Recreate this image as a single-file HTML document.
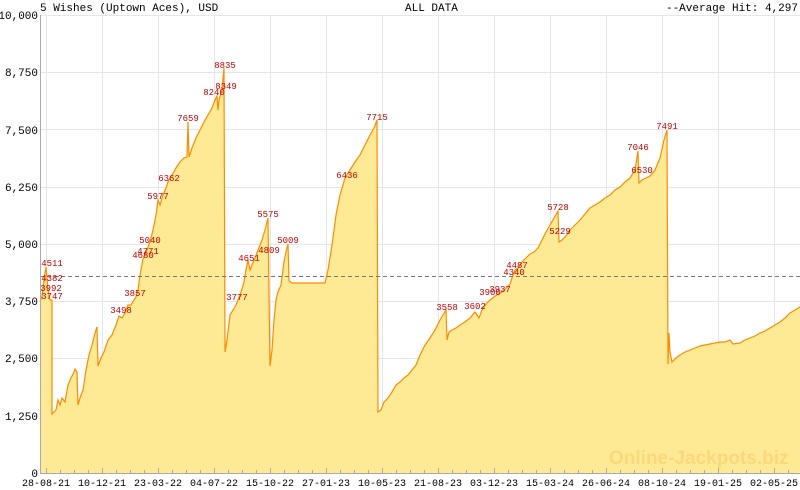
<!DOCTYPE html><html><head><style>body{margin:0;background:#fff}svg{display:block}text{font-family:"Liberation Mono","DejaVu Sans Mono",monospace}</style></head><body>
<svg width="800" height="490" xmlns="http://www.w3.org/2000/svg">
<rect width="800" height="490" fill="#fff"/>
<g stroke="#e6e6e6" stroke-width="1">
<line x1="40" y1="15.5" x2="800" y2="15.5"/><line x1="40" y1="72.5" x2="800" y2="72.5"/><line x1="40" y1="129.5" x2="800" y2="129.5"/><line x1="40" y1="187.5" x2="800" y2="187.5"/><line x1="40" y1="244.5" x2="800" y2="244.5"/><line x1="40" y1="301.5" x2="800" y2="301.5"/><line x1="40" y1="358.5" x2="800" y2="358.5"/><line x1="40" y1="416.5" x2="800" y2="416.5"/>
<line x1="46.5" y1="15" x2="46.5" y2="473"/><line x1="102.5" y1="15" x2="102.5" y2="473"/><line x1="158.5" y1="15" x2="158.5" y2="473"/><line x1="214.5" y1="15" x2="214.5" y2="473"/><line x1="270.5" y1="15" x2="270.5" y2="473"/><line x1="326.5" y1="15" x2="326.5" y2="473"/><line x1="382.5" y1="15" x2="382.5" y2="473"/><line x1="438.5" y1="15" x2="438.5" y2="473"/><line x1="494.5" y1="15" x2="494.5" y2="473"/><line x1="550.5" y1="15" x2="550.5" y2="473"/><line x1="606.5" y1="15" x2="606.5" y2="473"/><line x1="662.5" y1="15" x2="662.5" y2="473"/><line x1="718.5" y1="15" x2="718.5" y2="473"/><line x1="774.5" y1="15" x2="774.5" y2="473"/>
</g>
<polygon fill="#feea94" points="40,473 40,302 42,296 44,280 46,267 48,290 50,300 52,300 52,414 56,410 58,400 60,405 62,398 65,402 68,385 71,378 74,372 75,369 77,372 78,405 80,398 83,390 86,370 89,355 92,345 95,333 97,327 98,366 101,358 104,352 108,340 112,335 116,325 119,316 122,318 125,313 128,305 131,305 134,300 136,297 138,290 140,275 143,259 146,252 150,242 153,230 156,215 158,200 160,205 163,195 166,188 168,182 172,175 176,168 180,162 184,158 187,157 188,122 189,157 192,148 196,138 200,130 204,122 208,115 212,108 215,100 217,96 218,110 219,100 222,90 224,68 225,352 227,340 230,315 233,310 236,305 238,300 241,292 244,282 246,270 248,260 250,270 252,265 255,258 258,250 262,240 265,230 268,218 270,366 272,350 274,320 276,300 278,292 281,285 284,262 286,252 288,244 289,281 292,283 325,283 328,270 332,245 336,215 340,195 345,178 350,170 355,162 360,155 365,145 370,135 374,128 377,120 378,412 381,410 384,402 388,398 392,392 396,385 400,382 404,378 408,375 412,370 416,365 420,355 425,345 430,338 435,330 440,320 446,310 447,340 449,332 452,330 456,328 460,325 465,322 470,318 475,312 479,318 482,310 486,304 490,300 494,297 498,294 502,292 506,288 510,284 513,275 515,270 518,268 522,262 526,258 530,254 534,252 538,248 542,240 546,232 550,225 554,218 558,211 559,242 562,240 566,236 570,230 575,225 580,220 585,214 590,208 595,205 600,202 605,198 610,195 615,190 620,187 625,182 630,178 635,170 638,151 639,183 642,180 646,178 650,176 655,170 660,158 664,140 667,130 668,364 669,333 670,352 672,362 676,358 680,355 685,352 690,350 695,348 700,346 705,345 710,344 715,343 720,342 725,342 730,340 733,344 740,343 745,340 750,338 755,336 760,333 765,331 770,328 775,325 780,322 785,318 790,313 795,310 800,307 800,473"/>
<polyline fill="none" stroke="#ff8c00" stroke-width="1.2" points="40,302 42,296 44,280 46,267 48,290 50,300 52,300 52,414 56,410 58,400 60,405 62,398 65,402 68,385 71,378 74,372 75,369 77,372 78,405 80,398 83,390 86,370 89,355 92,345 95,333 97,327 98,366 101,358 104,352 108,340 112,335 116,325 119,316 122,318 125,313 128,305 131,305 134,300 136,297 138,290 140,275 143,259 146,252 150,242 153,230 156,215 158,200 160,205 163,195 166,188 168,182 172,175 176,168 180,162 184,158 187,157 188,122 189,157 192,148 196,138 200,130 204,122 208,115 212,108 215,100 217,96 218,110 219,100 222,90 224,68 225,352 227,340 230,315 233,310 236,305 238,300 241,292 244,282 246,270 248,260 250,270 252,265 255,258 258,250 262,240 265,230 268,218 270,366 272,350 274,320 276,300 278,292 281,285 284,262 286,252 288,244 289,281 292,283 325,283 328,270 332,245 336,215 340,195 345,178 350,170 355,162 360,155 365,145 370,135 374,128 377,120 378,412 381,410 384,402 388,398 392,392 396,385 400,382 404,378 408,375 412,370 416,365 420,355 425,345 430,338 435,330 440,320 446,310 447,340 449,332 452,330 456,328 460,325 465,322 470,318 475,312 479,318 482,310 486,304 490,300 494,297 498,294 502,292 506,288 510,284 513,275 515,270 518,268 522,262 526,258 530,254 534,252 538,248 542,240 546,232 550,225 554,218 558,211 559,242 562,240 566,236 570,230 575,225 580,220 585,214 590,208 595,205 600,202 605,198 610,195 615,190 620,187 625,182 630,178 635,170 638,151 639,183 642,180 646,178 650,176 655,170 660,158 664,140 667,130 668,364 669,333 670,352 672,362 676,358 680,355 685,352 690,350 695,348 700,346 705,345 710,344 715,343 720,342 725,342 730,340 733,344 740,343 745,340 750,338 755,336 760,333 765,331 770,328 775,325 780,322 785,318 790,313 795,310 800,307"/>
<line x1="40" y1="276.5" x2="800" y2="276.5" stroke="#777" stroke-dasharray="4,3"/>
<text x="609" y="464" font-size="19" font-weight="bold" fill="#fcd77c" style="font-family:'Liberation Sans',Arial,sans-serif">Online-Jackpots.biz</text>
<g stroke="#aaa"><line x1="40.5" y1="15" x2="40.5" y2="474"/><line x1="40" y1="473.5" x2="800" y2="473.5"/></g>
<g stroke="#aaa" id="tk">
<path d="M46.5 473v-5M60.5 473v-3M74.5 473v-3M88.5 473v-3M102.5 473v-5M116.5 473v-3M130.5 473v-3M144.5 473v-3M158.5 473v-5M172.5 473v-3M186.5 473v-3M200.5 473v-3M214.5 473v-5M228.5 473v-3M242.5 473v-3M256.5 473v-3M270.5 473v-5M284.5 473v-3M298.5 473v-3M312.5 473v-3M326.5 473v-5M340.5 473v-3M354.5 473v-3M368.5 473v-3M382.5 473v-5M396.5 473v-3M410.5 473v-3M424.5 473v-3M438.5 473v-5M452.5 473v-3M466.5 473v-3M480.5 473v-3M494.5 473v-5M508.5 473v-3M522.5 473v-3M536.5 473v-3M550.5 473v-5M564.5 473v-3M578.5 473v-3M592.5 473v-3M606.5 473v-5M620.5 473v-3M634.5 473v-3M648.5 473v-3M662.5 473v-5M676.5 473v-3M690.5 473v-3M704.5 473v-3M718.5 473v-5M732.5 473v-3M746.5 473v-3M760.5 473v-3M774.5 473v-5M788.5 473v-3"/>
</g>
<g font-size="11" fill="#000" text-anchor="end">
<text x="38" y="19">10,000</text><text x="38" y="76">8,750</text><text x="38" y="134">7,500</text><text x="38" y="191">6,250</text><text x="38" y="248">5,000</text><text x="38" y="305">3,750</text><text x="38" y="362">2,500</text><text x="38" y="420">1,250</text><text x="38" y="477">0</text>
</g>
<g font-size="10" fill="#000" text-anchor="middle">
<text x="46" y="486">28-08-21</text><text x="102" y="486">10-12-21</text><text x="158" y="486">23-03-22</text><text x="214" y="486">04-07-22</text><text x="270" y="486">15-10-22</text><text x="326" y="486">27-01-23</text><text x="382" y="486">10-05-23</text><text x="438" y="486">21-08-23</text><text x="494" y="486">03-12-23</text><text x="550" y="486">15-03-24</text><text x="606" y="486">26-06-24</text><text x="662" y="486">08-10-24</text><text x="718" y="486">19-01-25</text><text x="774" y="486">02-05-25</text>
</g>
<text x="40" y="11" font-size="11">5 Wishes (Uptown Aces), USD</text>
<text x="405" y="11" font-size="11">ALL DATA</text>
<text x="798" y="11" font-size="11" text-anchor="end">--Average Hit: 4,297</text>
<g font-size="9" fill="#cc0000" text-anchor="middle">
<text x="52" y="266">4511</text><text x="51" y="291">3992</text><text x="52" y="299">3747</text><text x="52" y="281">4382</text>
<text x="121" y="313">3498</text><text x="135" y="296">3857</text><text x="143" y="258">4680</text><text x="148" y="254">4771</text><text x="150" y="243">5040</text><text x="158" y="199">5977</text><text x="169" y="181">6362</text><text x="188" y="121">7659</text>
<text x="214" y="95">8240</text><text x="225" y="68">8835</text><text x="226" y="89">8349</text>
<text x="237" y="300">3777</text><text x="249" y="261">4651</text><text x="269" y="253">4809</text><text x="268" y="217">5575</text><text x="288" y="243">5009</text>
<text x="347" y="178">6436</text><text x="377" y="120">7715</text>
<text x="447" y="310">3558</text><text x="475" y="309">3602</text><text x="490" y="295">3900</text><text x="500" y="292">3937</text><text x="514" y="275">4340</text><text x="517" y="268">4487</text>
<text x="558" y="210">5728</text><text x="560" y="234">5229</text><text x="638" y="150">7046</text><text x="642" y="173">6530</text><text x="667" y="129">7491</text>
</g>
</svg></body></html>
